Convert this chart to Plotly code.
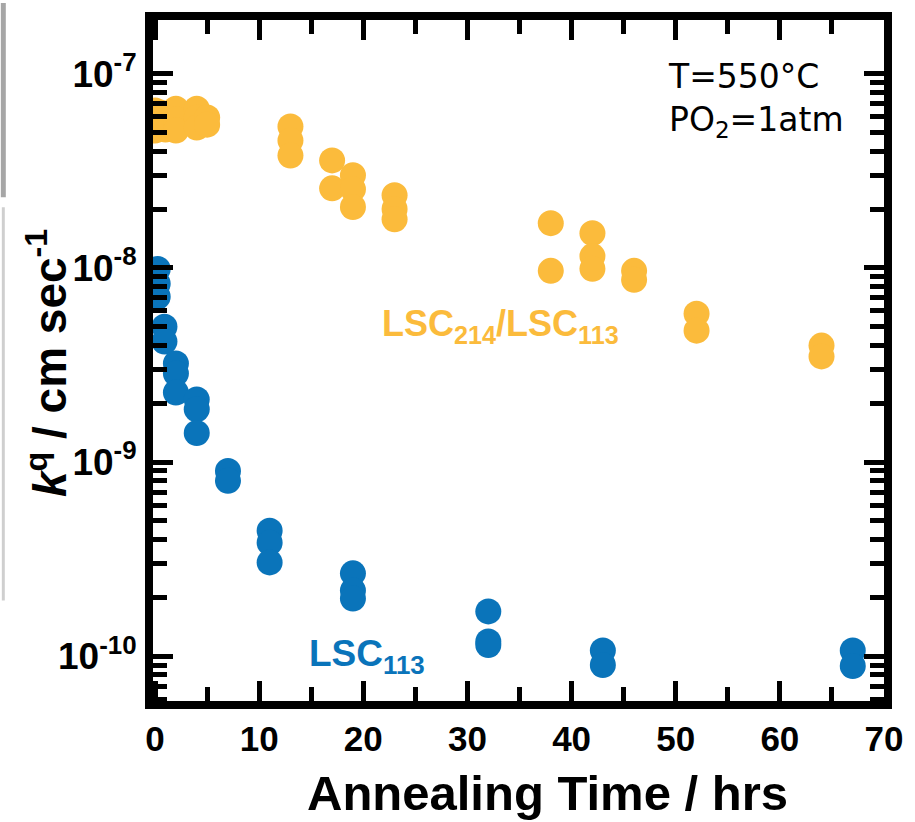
import plotly.graph_objects as go

# ---------------- data ----------------
lsc214_x = [0, 0, 0, 0.5, 0.5, 1, 1, 2, 2, 2, 4, 4, 4, 5, 5,
            13, 13, 13, 17, 17, 19, 19, 19, 23, 23, 23,
            38, 38, 42, 42, 42, 46, 46, 52, 52, 64, 64]
lsc214_y = [6.46e-8, 5.74e-8, 5.10e-8, 6.31e-8, 5.28e-8, 6.16e-8, 5.16e-8,
            6.61e-8, 5.81e-8, 5.10e-8, 6.61e-8, 5.95e-8, 5.28e-8, 5.95e-8, 5.47e-8,
            5.35e-8, 4.53e-8, 3.79e-8, 3.58e-8, 2.57e-8, 3.00e-8, 2.54e-8, 2.06e-8,
            2.37e-8, 2.01e-8, 1.78e-8,
            1.70e-8, 9.66e-9, 1.51e-8, 1.15e-8, 9.89e-9, 9.66e-9, 8.68e-9,
            5.81e-9, 4.75e-9, 3.98e-9, 3.50e-9]

lsc113_x = [0.25, 0.25, 0.25, 0.9, 0.9, 2, 2, 2, 4, 4, 4, 7, 7,
            11, 11, 11, 19, 19, 19, 32, 32, 32, 43, 43, 67, 67]
lsc113_y = [9.88e-9, 8.28e-9, 7.10e-9, 4.98e-9, 4.18e-9,
            3.22e-9, 2.86e-9, 2.28e-9, 2.10e-9, 1.87e-9, 1.41e-9,
            9.0e-10, 8.0e-10, 4.43e-10, 3.84e-10, 3.04e-10,
            2.67e-10, 2.18e-10, 1.98e-10, 1.70e-10, 1.19e-10, 1.14e-10,
            1.07e-10, 9.0e-11, 1.07e-10, 8.9e-11]

y_tickvals = [1e-10, 1e-9, 1e-8, 1e-7]
y_ticktext = ["10<sup>-10</sup>", "10<sup>-9</sup>", "10<sup>-8</sup>", "10<sup>-7</sup>"]
x_tickvals = [0, 10, 20, 30, 40, 50, 60, 70]

ORANGE = "#FBBB3C"
BLUE = "#0A74BA"

X_RANGE = [-0.2, 70]
Y_RANGE = [-10.231, -6.723]

# ---------------- layout geometry ----------------
W, H = 915, 822
L, R, T, B = 153, 27, 17, 121
PW, PH = W - L - R, H - T - B


def px(x):
    return (x - L) / PW


def py(y):
    return (H - B - y) / PH


fig = go.Figure()
fig.add_trace(go.Scatter(x=lsc113_x, y=lsc113_y, mode="markers",
                         marker=dict(size=26, color=BLUE, line=dict(width=0)),
                         name="LSC113", showlegend=False))
fig.add_trace(go.Scatter(x=lsc214_x, y=lsc214_y, mode="markers",
                         marker=dict(size=26, color=ORANGE, line=dict(width=0)),
                         name="LSC214/LSC113", showlegend=False))

axis_common = dict(showline=True, linewidth=8, linecolor="black", mirror="ticks",
                   ticks="inside", ticklen=20, tickwidth=5, tickcolor="black",
                   showgrid=False, zeroline=False)

fig.update_layout(
    xaxis=dict(range=X_RANGE, tickmode="linear", tick0=0, dtick=10,
               tickfont=dict(family="Liberation Sans, Arial", size=35, color="black",
                             weight="bold"),
               minor=dict(tickmode="linear", tick0=0, dtick=5, ticks="inside",
                          ticklen=14, tickwidth=5, tickcolor="black", showgrid=False),
               **axis_common),
    yaxis=dict(type="log", range=Y_RANGE, tickmode="array",
               tickvals=y_tickvals, ticktext=y_ticktext, ticklabelstandoff=1,
               tickfont=dict(family="Liberation Sans, Arial", size=37, color="black",
                             weight="bold"),
               minor=dict(dtick="D1", ticks="inside", ticklen=14, tickwidth=5,
                          tickcolor="black", showgrid=False),
               **axis_common),
)

annotations = [
    dict(text="T=550°C<br>PO<sub>2</sub>=1atm", x=px(669), y=py(97), xanchor="left",
         yanchor="middle", align="left",
         font=dict(family="DejaVu Sans", size=33, color="black")),
    dict(text="LSC<sub>214</sub>/LSC<sub>113</sub>", x=px(502), y=py(324),
         xanchor="center", yanchor="middle",
         font=dict(family="Liberation Sans, Arial", size=36, color=ORANGE, weight="bold")),
    dict(text="LSC<sub>113</sub>", x=px(368), y=py(656),
         xanchor="center", yanchor="middle",
         font=dict(family="Liberation Sans, Arial", size=37, color=BLUE, weight="bold")),
    dict(text="<i>k</i><sup>q</sup> / cm sec<sup>-1</sup>", x=px(47), y=py(362),
         xanchor="center", yanchor="middle", textangle=-90,
         font=dict(family="Liberation Sans, Arial", size=46, color="black", weight="bold")),
    dict(text="Annealing Time / hrs", x=px(550), y=py(793),
         xanchor="center", yanchor="middle",
         font=dict(family="Liberation Sans, Arial", size=49, color="black", weight="bold")),
]
for a in annotations:
    a.update(xref="paper", yref="paper", showarrow=False)

shapes = [
    dict(type="rect", xref="paper", yref="paper", x0=px(0), x1=px(5), y0=py(195), y1=py(0),
         fillcolor="#a6a6a6", line=dict(width=0), layer="below"),
    dict(type="rect", xref="paper", yref="paper", x0=px(1), x1=px(4), y0=py(600), y1=py(205),
         fillcolor="#cfcfcf", line=dict(width=0), layer="below"),
]

fig.update_layout(width=W, height=H, margin=dict(l=L, r=R, t=T, b=B, pad=0),
                  plot_bgcolor="white", paper_bgcolor="white",
                  annotations=annotations, shapes=shapes, showlegend=False)

fig.write_html("out.html")
